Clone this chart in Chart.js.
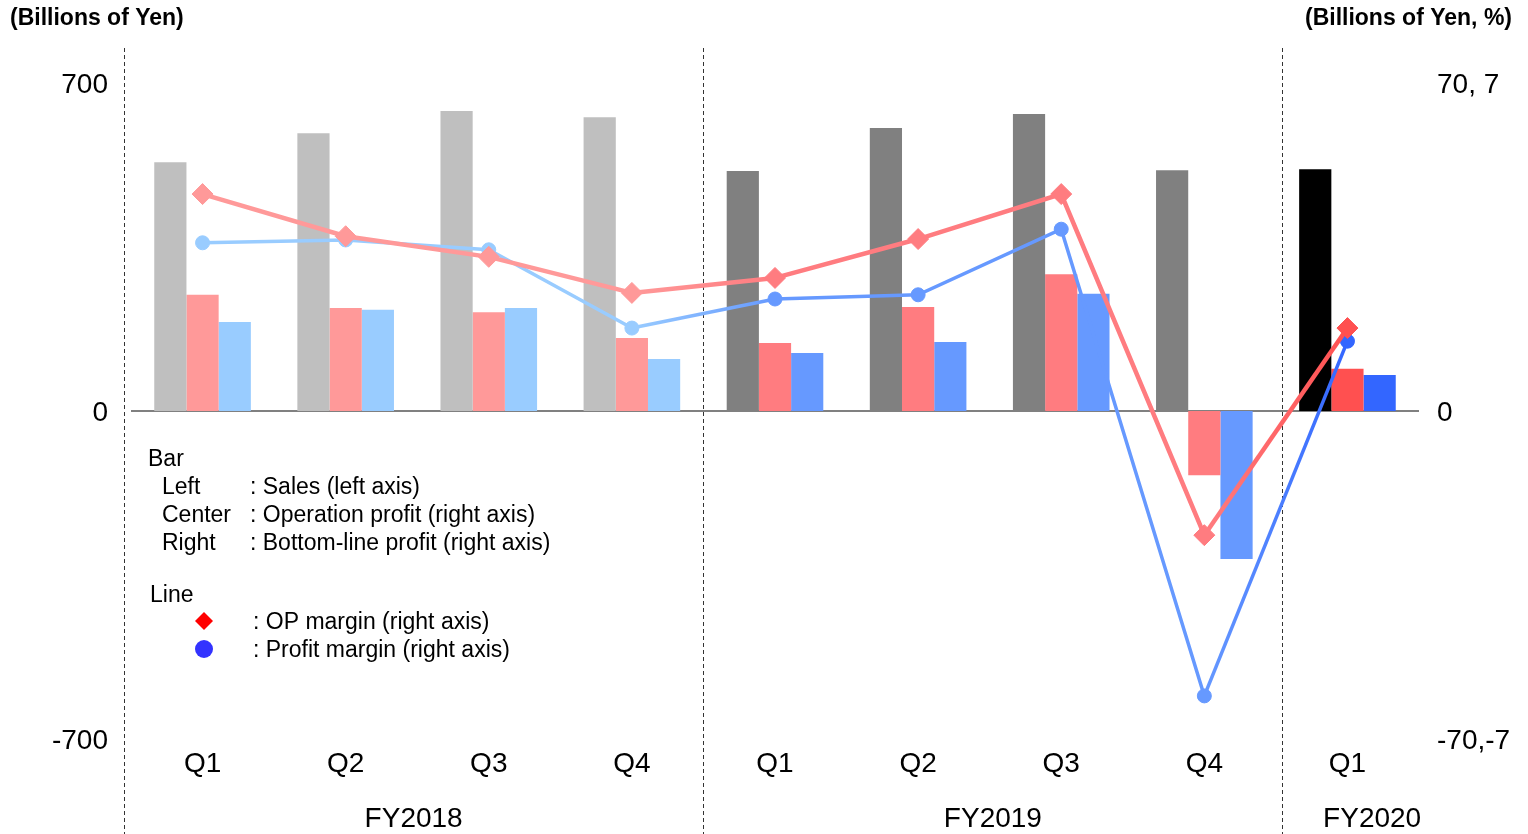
<!DOCTYPE html>
<html><head><meta charset="utf-8">
<script src="https://cdn.jsdelivr.net/npm/chart.js@4.4.0/dist/chart.umd.min.js"></script>
<style>html,body{margin:0;padding:0;background:#fff;overflow:hidden}#wrap{position:relative;width:1528px;height:834px}canvas{display:block}</style>
</head><body><div id="wrap"><canvas id="c" width="1528" height="834" style="width:1528px;height:834px"></canvas></div>
<script>
// ---- data ----
const categories = ['Q1','Q2','Q3','Q4','Q1','Q2','Q3','Q4','Q1'];
const fiscalYears = ['FY2018','FY2019','FY2020'];
const fiscalYearOfCategory = [0,0,0,0,1,1,1,1,2];
const fiscalYearBoundaries = [-0.55, 3.5, 7.545, 8.8];
const sales = [531,593,640,627,512,604,634,514,516];
const operatingProfit = [24.8,22.0,21.1,15.6,14.5,22.2,29.2,-13.7,9.0];
const bottomLineProfit = [19.0,21.6,22.0,11.1,12.4,14.7,25.0,-31.6,7.7];
const opMargin = [4.63,3.73,3.29,2.52,2.84,3.67,4.63,-2.65,1.77];
const profitMargin = [3.59,3.65,3.44,1.77,2.39,2.48,3.88,-6.08,1.49];
const leftTicks = [-700,0,700];
const rightTicks = [-70,0,70];
const rightTickLabels = ['-70,-7','0','70, 7'];

// ---- styles ----
const FONT = '"Liberation Sans", Arial, sans-serif';
const salesColors = ['#bfbfbf','#808080','#000000'];
const opColors = ['#ff9999','#ff7c80','#ff5050'];
const blColors = ['#99ccff','#6699ff','#3366ff'];
const byFY = pal => fiscalYearOfCategory.map(i => pal[i]);

const canvas = document.getElementById('c');
const c2d = canvas.getContext('2d');
function segColor(pal){
  return ctx => {
    const a = pal[fiscalYearOfCategory[ctx.p0DataIndex]];
    const b = pal[fiscalYearOfCategory[ctx.p1DataIndex]];
    if (a === b) return a;
    const g = c2d.createLinearGradient(ctx.p0.x, 0, ctx.p1.x, 0);
    g.addColorStop(0, a); g.addColorStop(1, b);
    return g;
  };
}

const deco = {
  id: 'deco',
  beforeDatasetsDraw(chart){
    const {ctx, chartArea:a, scales:{x, yL}} = chart;
    const y0 = Math.round(yL.getPixelForValue(0));
    ctx.save();
    ctx.strokeStyle = '#808080'; ctx.lineWidth = 2;
    ctx.beginPath(); ctx.moveTo(a.left, y0); ctx.lineTo(a.right, y0); ctx.stroke();
    ctx.strokeStyle = '#333'; ctx.lineWidth = 1; ctx.setLineDash([4,3]);
    fiscalYearBoundaries.slice(0,3).forEach(b => {
      const px = Math.round(x.getPixelForValue(b)) + 0.5;
      ctx.beginPath(); ctx.moveTo(px, 48); ctx.lineTo(px, chart.height); ctx.stroke();
    });
    ctx.restore();
  },
  afterDraw(chart){
    const {ctx, scales:{x}} = chart;
    ctx.save();
    ctx.fillStyle = '#000';
    ctx.textBaseline = 'middle';
    ctx.font = 'bold 23px ' + FONT;
    ctx.textAlign = 'left'; ctx.fillText('(Billions of Yen)', 10, 19);
    ctx.textAlign = 'right'; ctx.fillText('(Billions of Yen, %)', 1512, 19);
    ctx.font = '28px ' + FONT; ctx.textAlign = 'center';
    fiscalYears.forEach((fy, i) => {
      const cx = (x.getPixelForValue(fiscalYearBoundaries[i]) + x.getPixelForValue(fiscalYearBoundaries[i+1])) / 2;
      ctx.fillText(fy, cx, 819);
    });
    ctx.font = '23px ' + FONT; ctx.textAlign = 'left';
    ctx.fillText('Bar', 148, 460);
    [['Left',': Sales (left axis)'],['Center',': Operation profit (right axis)'],['Right',': Bottom-line profit (right axis)']]
      .forEach((r, i) => { ctx.fillText(r[0], 162, 488 + i*28); ctx.fillText(r[1], 250, 488 + i*28); });
    ctx.fillText('Line', 150, 596);
    ctx.fillText(': OP margin (right axis)', 253, 623);
    ctx.fillText(': Profit margin (right axis)', 253, 651);
    ctx.fillStyle = '#ff0000';
    ctx.beginPath(); ctx.moveTo(204, 612); ctx.lineTo(213, 621); ctx.lineTo(204, 630); ctx.lineTo(195, 621); ctx.closePath(); ctx.fill();
    ctx.fillStyle = '#3333ff';
    ctx.beginPath(); ctx.arc(204, 649, 9, 0, Math.PI*2); ctx.fill();
    ctx.restore();
  }
};

new Chart(canvas, {
  type: 'bar',
  data: {
    labels: categories,
    datasets: [
      { type:'line', label:'OP margin', data: opMargin, yAxisID:'yM', order:0,
        borderColor: opColors[0], borderWidth: 4.5,
        segment: { borderColor: segColor(opColors) },
        pointStyle:'rectRot', pointRadius: 10.5, pointBorderWidth: 1,
        pointBackgroundColor: byFY(opColors), pointBorderColor: byFY(opColors), tension: 0 },
      { type:'line', label:'Profit margin', data: profitMargin, yAxisID:'yM', order:0,
        borderColor: blColors[0], borderWidth: 3.5,
        segment: { borderColor: segColor(blColors) },
        pointStyle:'circle', pointRadius: 7, pointBorderWidth: 1,
        pointBackgroundColor: byFY(blColors), pointBorderColor: byFY(blColors), tension: 0 },
      { label:'Sales', data: sales, yAxisID:'yL', order:1, backgroundColor: byFY(salesColors) },
      { label:'Operation profit', data: operatingProfit, yAxisID:'yR', order:1, backgroundColor: byFY(opColors) },
      { label:'Bottom-line profit', data: bottomLineProfit, yAxisID:'yR', order:1, backgroundColor: byFY(blColors) }
    ]
  },
  options: {
    responsive: false, animation: false,
    devicePixelRatio: 1,
    layout: { padding: { top: 83, left: 0, right: 0, bottom: 0 } },
    datasets: { bar: { categoryPercentage: 0.675, barPercentage: 1.0, borderWidth: 0 } },
    plugins: { legend: { display:false }, tooltip: { enabled:false }, title: { display:false } },
    scales: {
      x: {
        grid: { display:false, drawTicks:false }, border: { display:false },
        ticks: { color:'#000', font: { family: FONT, size: 28 }, padding: 8, maxRotation:0, autoSkip:false },
        afterFit: s => { s.height = 95; }
      },
      yL: {
        position:'left', min:-700, max:700,
        grid: { display:false, drawTicks:false }, border: { display:false },
        afterBuildTicks: s => { s.ticks = leftTicks.map(v => ({ value: v })); },
        ticks: { color:'#000', font: { family: FONT, size: 28 }, padding: 23, labelOffset: 2 },
        afterFit: s => { s.width = 131; }
      },
      yR: {
        position:'right', min:-70, max:70,
        grid: { display:false, drawTicks:false }, border: { display:false },
        afterBuildTicks: s => { s.ticks = rightTicks.map(v => ({ value: v })); },
        ticks: { color:'#000', font: { family: FONT, size: 28 }, padding: 18, labelOffset: 2,
                 callback: v => rightTickLabels[rightTicks.indexOf(v)] },
        afterFit: s => { s.width = 109; }
      },
      yM: { display:false, min:-7, max:7 }
    }
  },
  plugins: [deco]
});
</script></body></html>
